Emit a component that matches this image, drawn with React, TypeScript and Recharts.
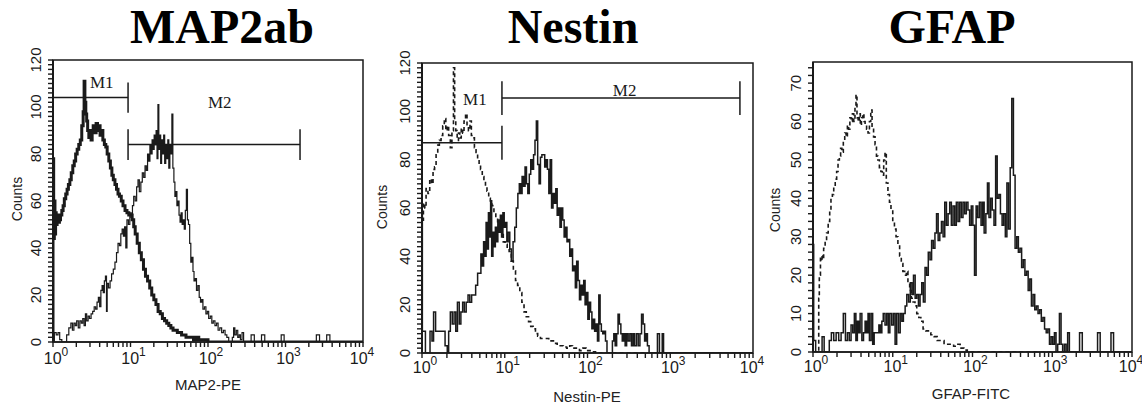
import { LineChart, Line, XAxis, YAxis, ReferenceLine, ReferenceDot, ReferenceArea } from 'recharts';

type Pt = [number, number];

// axis decorations
const xDecades = [1, 10, 100, 1000, 10000];
const decadeExp = ['0', '1', '2', '3', '4'];
const minorSteps = [2, 3, 4, 5, 6, 7, 8, 9];
const map2YLabels = [0, 20, 40, 60, 80, 100, 120];
const nestinYLabels = [0, 20, 40, 60, 80, 100, 120];
const gfapYLabels = [0, 10, 20, 30, 40, 50, 60, 70];

// MAP2ab panel: isotype control (thick) and MAP2-PE stained (thin)
const map2Control: Pt[] = [
  [1, 0], [1, 78], [1.02, 44], [1.04, 60], [1.06, 46], [1.08, 55], [1.1, 50], [1.13, 54], [1.17, 51],
  [1.21, 52], [1.25, 54], [1.3, 56], [1.35, 58], [1.4, 61], [1.46, 63], [1.52, 65], [1.58, 67], [1.65, 69],
  [1.72, 72], [1.8, 75], [1.88, 77], [1.96, 80], [2.05, 82], [2.15, 84], [2.25, 86], [2.35, 92], [2.45, 98],
  [2.52, 111], [2.58, 102], [2.65, 97], [2.72, 94], [2.8, 90], [2.9, 87], [3.0, 90], [3.1, 86], [3.2, 89],
  [3.3, 92], [3.45, 89], [3.6, 93], [3.75, 90], [3.9, 92], [4.05, 88], [4.2, 90], [4.4, 86], [4.6, 84],
  [4.8, 83], [5.0, 80], [5.25, 77], [5.5, 74], [5.75, 71], [6.0, 69], [6.3, 67], [6.6, 65], [6.9, 63],
  [7.2, 62], [7.6, 60], [8.0, 58], [8.5, 56], [9.0, 55], [9.5, 54], [10.0, 54], [10.5, 52], [11.0, 49],
  [11.5, 46], [12.2, 42], [13.0, 38], [13.8, 35], [14.7, 31], [15.6, 28], [16.6, 26], [17.7, 23], [18.8, 20],
  [20, 18], [21.3, 16], [22.7, 13], [24.2, 12], [25.8, 10], [27.5, 9], [29.3, 8], [31.2, 7], [33.2, 6],
  [35.4, 5], [37.7, 5], [40.2, 4], [42.8, 4], [45.6, 3], [48.6, 3], [52, 2], [56, 2], [60, 2], [65, 1],
  [70, 2], [76, 1], [82, 1], [90, 1], [100, 0], [10000, 0],
];

const map2Stained: Pt[] = [
  [1, 0], [1.04, 4], [1.1, 3], [1.16, 4], [1.22, 1], [1.3, 0], [1.42, 0], [1.5, 3], [1.6, 6], [1.7, 8],
  [1.78, 5], [1.86, 8], [1.94, 7], [2.02, 9], [2.12, 6], [2.22, 9], [2.32, 8], [2.42, 10], [2.52, 7],
  [2.62, 12], [2.72, 9], [2.84, 11], [2.96, 10], [3.1, 12], [3.25, 13], [3.4, 15], [3.55, 14], [3.7, 17],
  [3.85, 19], [4.0, 15], [4.15, 22], [4.3, 24], [4.45, 21], [4.6, 26], [4.75, 28], [4.9, 13], [5.0, 25],
  [5.2, 23], [5.45, 26], [5.7, 29], [6.0, 31], [6.3, 34], [6.6, 38], [6.9, 42], [7.2, 41], [7.5, 46],
  [7.8, 48], [8.1, 45], [8.4, 49], [8.7, 40], [9.0, 52], [9.4, 50], [9.8, 55], [10.2, 53], [10.6, 58],
  [11.0, 62], [11.5, 60], [12.0, 66], [12.5, 69], [13.0, 64], [13.6, 68], [14.2, 72], [14.8, 70], [15.4, 75],
  [16.0, 73], [16.6, 80], [17.2, 77], [17.8, 84], [18.4, 80], [19.0, 86], [19.6, 82], [20.2, 88], [20.8, 84],
  [21.4, 90], [22.0, 78], [22.6, 101], [23.2, 82], [23.8, 88], [24.5, 76], [25.2, 86], [26.0, 80], [26.8, 88],
  [27.6, 76], [28.5, 84], [29.4, 78], [30.3, 86], [31.2, 74], [32.2, 84], [33.2, 80], [34.2, 97], [35.2, 74],
  [36.3, 68], [37.4, 62], [38.5, 64], [39.7, 58], [41, 60], [42.3, 54], [43.6, 51], [45, 55], [46.4, 50],
  [47.9, 52], [49.4, 48], [51, 56], [52.6, 65], [54.3, 52], [56, 50], [58, 42], [60, 34], [62, 36], [64, 30],
  [66, 26], [68.5, 27], [71, 22], [74, 24], [77, 19], [80, 17], [83, 18], [86, 14], [90, 15], [94, 12],
  [98, 13], [102, 10], [107, 11], [112, 8], [117, 9], [123, 7], [129, 8], [135, 5], [142, 6], [150, 4],
  [158, 5], [166, 3], [175, 2], [185, 0], [200, 0], [206, 2], [214, 6], [222, 3], [232, 5], [242, 2],
  [252, 3], [262, 1], [275, 4], [288, 0], [360, 3], [396, 0], [490, 3], [540, 0], [880, 3], [960, 0],
  [2500, 3], [2750, 0], [3400, 3], [3740, 0], [10000, 0],
];

// Nestin panel: control (dashed) and Nestin-PE stained (solid)
const nestinControl: Pt[] = [
  [1, 0], [1, 55], [1.04, 62], [1.08, 60], [1.12, 68], [1.18, 66], [1.24, 72], [1.3, 70], [1.36, 76],
  [1.42, 77], [1.48, 82], [1.55, 86], [1.62, 88], [1.7, 90], [1.78, 94], [1.86, 97], [1.94, 92], [2.02, 94],
  [2.1, 90], [2.2, 85], [2.3, 92], [2.4, 118], [2.48, 96], [2.56, 92], [2.66, 88], [2.76, 91], [2.86, 89],
  [2.98, 93], [3.1, 91], [3.22, 96], [3.36, 99], [3.5, 94], [3.64, 92], [3.8, 96], [3.95, 90], [4.1, 89],
  [4.3, 85], [4.5, 83], [4.7, 80], [4.9, 78], [5.1, 76], [5.35, 73], [5.6, 71], [5.85, 69], [6.1, 67],
  [6.4, 64], [6.7, 62], [7.0, 61], [7.4, 58], [7.8, 56], [8.2, 53], [8.6, 51], [9.1, 49], [9.6, 46],
  [10.1, 45], [10.7, 43], [11.3, 42], [12.0, 38], [12.7, 34], [13.5, 30], [14.3, 28], [15.2, 25], [16.1, 21],
  [17.1, 17], [18.2, 15], [19.4, 13], [20.6, 11], [22, 10], [23.5, 8], [25, 7], [27, 6], [29, 6], [31.5, 6],
  [34, 5], [37, 5], [40, 4], [43, 3], [47, 3], [51, 2.5], [56, 2], [61, 3], [66, 2], [72, 2], [80, 1],
  [88, 2], [96, 1], [105, 1], [115, 0.5], [125, 0], [10000, 0],
];

const nestinStained: Pt[] = [
  [1, 0], [1, 58], [1.01, 9], [1.06, 9], [1.1, 0], [1.18, 0], [1.25, 9], [1.32, 5], [1.38, 17], [1.46, 9],
  [1.62, 9], [1.78, 9], [1.9, 3], [2.02, 0], [2.1, 9], [2.2, 17], [2.32, 12], [2.44, 17], [2.56, 9],
  [2.68, 21], [2.82, 12], [2.95, 17], [3.1, 21], [3.25, 17], [3.42, 21], [3.6, 24], [3.78, 21], [3.98, 24],
  [4.2, 24], [4.45, 28], [4.7, 33], [4.95, 33], [5.15, 41], [5.35, 36], [5.55, 46], [5.75, 40], [5.95, 54],
  [6.15, 43], [6.35, 58], [6.55, 48], [6.75, 63], [6.95, 40], [7.2, 50], [7.45, 44], [7.7, 52], [7.95, 46],
  [8.25, 55], [8.55, 50], [8.85, 57], [9.15, 48], [9.5, 58], [9.85, 52], [10.2, 54], [10.6, 46], [11.0, 50],
  [11.5, 43], [12.0, 38], [12.6, 46], [13.2, 52], [13.8, 60], [14.4, 66], [15.0, 70], [15.6, 66], [16.2, 73],
  [16.9, 69], [17.6, 77], [18.3, 70], [19.0, 66], [19.8, 74], [20.6, 80], [21.4, 76], [22.3, 82], [23.2, 88],
  [24.1, 96], [25.0, 78], [26, 70], [27, 81], [28.1, 82], [29.2, 82], [30.4, 77], [31.6, 80], [32.8, 76],
  [34.1, 66], [35.4, 80], [36.8, 60], [38.3, 66], [39.8, 62], [41.4, 68], [43, 57], [44.7, 60], [46.5, 52],
  [48.3, 60], [50.2, 55], [52.2, 48], [54.3, 52], [56.5, 46], [58.7, 47], [61, 40], [63.4, 43], [66, 34],
  [68.6, 36], [71.3, 27], [74, 38], [77, 30], [80, 22], [83, 28], [86.5, 24], [90, 30], [93.5, 20], [97, 25],
  [101, 14], [105, 21], [109, 17], [113, 10], [117.5, 14], [122, 9], [127, 12], [132, 5], [137, 24], [142, 12],
  [147, 9], [153, 8], [159, 9], [165, 5], [172, 0], [192, 0], [200, 5], [208, 8], [216, 3], [225, 8],
  [234, 16], [243, 12], [253, 8], [263, 5], [274, 8], [285, 3], [297, 8], [310, 5], [325, 8], [340, 3],
  [355, 8], [370, 3], [390, 8], [410, 3], [430, 8], [450, 16], [470, 12], [490, 5], [510, 8], [530, 3],
  [555, 0], [690, 0], [700, 8], [740, 0], [790, 0], [800, 8], [830, 0], [10000, 0],
];

// GFAP panel: control (dashed) and GFAP-FITC stained (solid)
const gfapControl: Pt[] = [
  [1, 0], [1.16, 0], [1.18, 14], [1.2, 20], [1.24, 25], [1.3, 24], [1.36, 27], [1.42, 29], [1.48, 31],
  [1.55, 34], [1.62, 37], [1.68, 40], [1.75, 41], [1.82, 43], [1.9, 45], [1.98, 47], [2.06, 50], [2.14, 51],
  [2.22, 53], [2.3, 52], [2.4, 55], [2.5, 57], [2.6, 56], [2.7, 59], [2.8, 58], [2.9, 61], [3.0, 60],
  [3.12, 62], [3.24, 60], [3.36, 64], [3.46, 67], [3.56, 61], [3.68, 60], [3.8, 62], [3.92, 59], [4.05, 61],
  [4.2, 62], [4.35, 60], [4.5, 59], [4.7, 58], [4.9, 57], [5.1, 60], [5.3, 63], [5.5, 58], [5.75, 56],
  [6.0, 54], [6.25, 51], [6.5, 50], [6.8, 48], [7.1, 47], [7.4, 46], [7.7, 50], [8.0, 52], [8.3, 44],
  [8.7, 41], [9.1, 39], [9.5, 37], [10.0, 34], [10.5, 32], [11.0, 30], [11.6, 28], [12.2, 25], [12.8, 23],
  [13.4, 21], [14.1, 20], [14.8, 21], [15.5, 18], [16.3, 16], [17.1, 14], [18.0, 13], [19.0, 12], [20, 10],
  [21.2, 9], [22.5, 8], [24, 6], [26, 5.5], [28, 5], [30, 4.5], [33, 4], [36, 3], [40, 3], [44, 2], [48, 2],
  [53, 2], [58, 1.5], [64, 2], [70, 1], [78, 0.5], [86, 0], [10000, 0],
];

const gfapStained: Pt[] = [
  [1, 0], [1, 28], [1.02, 3], [1.08, 0], [1.2, 0], [1.3, 4], [1.38, 0], [1.5, 0], [1.6, 3], [1.7, 5],
  [1.82, 3], [1.95, 5], [2.1, 3], [2.25, 5], [2.4, 10], [2.55, 3], [2.7, 5], [2.85, 3], [3.0, 7], [3.15, 5],
  [3.3, 10], [3.45, 3], [3.6, 8], [3.75, 5], [3.9, 10], [4.1, 3], [4.3, 5], [4.5, 8], [4.7, 5], [4.9, 10],
  [5.1, 3], [5.35, 10], [5.6, 2], [5.85, 5], [6.1, 5], [6.4, 5], [6.7, 7], [7.0, 5], [7.3, 8], [7.6, 10],
  [8.0, 7], [8.4, 10], [8.8, 5], [9.2, 10], [9.7, 7], [10.2, 10], [10.7, 2], [11.2, 10], [11.8, 5],
  [12.4, 10], [13.0, 8], [13.6, 10], [14.3, 12], [15.0, 15], [15.8, 13], [16.6, 18], [17.4, 15], [18.2, 20],
  [19.1, 14], [20.0, 15], [21.0, 12], [22.0, 15], [23.1, 18], [24.2, 13], [25.4, 22], [26.6, 20], [27.9, 26],
  [29.3, 24], [30.7, 29], [32.2, 27], [33.8, 31], [35.4, 36], [37.1, 29], [38.9, 31], [40.8, 34], [42.8, 30],
  [44.9, 39], [47.1, 33], [49.4, 36], [51.8, 39], [54.3, 33], [57, 38], [59.8, 33], [62.7, 39], [65.8, 34],
  [69, 39], [72.4, 35], [76, 39], [79.7, 36], [83.6, 39], [87.7, 37], [92, 33], [96.5, 38], [101, 33],
  [106, 20], [111, 38], [116, 35], [122, 39], [128, 33], [134, 39], [140, 31], [147, 36], [154, 44],
  [161, 35], [169, 40], [177, 37], [186, 33], [195, 51], [204, 40], [214, 41], [224, 36], [235, 33],
  [246, 36], [258, 30], [270, 44], [283, 32], [297, 48], [311, 66], [326, 46], [342, 27], [359, 30],
  [376, 26], [394, 27], [413, 22], [433, 24], [454, 20], [476, 21], [499, 16], [523, 19], [548, 12],
  [575, 15], [603, 11], [632, 12], [663, 10], [695, 11], [729, 8], [764, 9], [801, 6], [840, 5], [880, 6],
  [923, 2], [968, 4], [1015, 2], [1065, 5], [1115, 0], [1170, 2], [1230, 10], [1290, 2], [1350, 0],
  [1420, 2], [1490, 0], [1560, 5], [1640, 0], [2200, 5], [2380, 0], [3700, 5], [3990, 0], [5450, 5],
  [5870, 0], [10000, 0],
];

// marker gates: [label, start, end, level, half tick height, label x, label y]
type Gate = [string, number, number, number, number, number, number];
const map2Gates: Gate[] = [
  ['M1', 1, 9.3, 104, 6.4, 4.25, 110.5],
  ['M2', 9.3, 1540, 84, 6.5, 142, 102],
];
const nestinGates: Gate[] = [
  ['M1', 1, 9.25, 87, 7, 4.35, 105],
  ['M2', 9.25, 6950, 105.5, 7, 281, 109],
];

const ink = '#1a1a1a';
const sans = '"Liberation Sans", Arial, sans-serif';
const serif = '"Liberation Serif", "Times New Roman", serif';

const xTicks = xDecades.flatMap((d, i) => (i < xDecades.length - 1 ? [d, ...minorSteps.map((m) => m * d)] : [d]));

const toRows = (pts: Pt[]) => pts.map(([x, y]) => ({ x, y }));

type Series = { pts: Pt[]; width: number; dash?: string };

type PanelProps = {
  left: number;
  width: number;
  top: number;
  yAxisW: number;
  right: number;
  xAxisH: number;
  yMax: number;
  yLabels: number[];
  series: Series[];
  gates: Gate[];
  labelDy: number;
};

const X_TICK = 5;
const Y_TICK = 5;

const HistPanel = ({ left, width, top, yAxisW, right, xAxisH, yMax, yLabels, series, gates, labelDy }: PanelProps) => {
  const yTicks: number[] = [];
  for (let v = 0; v <= yMax; v += 2) yTicks.push(v);

  // tick marks come from Recharts' own tickLine; these only place the labels
  const renderXTick = (props: any) => {
    const { x, y, payload } = props;
    const idx = xDecades.indexOf(payload.value);
    if (idx < 0) return <g />;
    return (
      <text x={idx === 4 ? x - 1 : x + 3} y={y - X_TICK + labelDy} textAnchor="middle" fontSize={16} fontFamily={sans} fill={ink}>
        10
        <tspan dy={-8} fontSize={12}>{decadeExp[idx]}</tspan>
      </text>
    );
  };

  const renderYTick = (props: any) => {
    const { x, y, payload } = props;
    if (!yLabels.includes(payload.value)) return <g />;
    return (
      <text
        transform={`translate(${x + Y_TICK - 18},${y}) rotate(-90)`}
        textAnchor="middle"
        dominantBaseline="central"
        fontSize={15}
        fontFamily={sans}
        fill={ink}
      >
        {payload.value}
      </text>
    );
  };

  return (
    <div style={{ position: 'absolute', left, top: 0 }}>
      <LineChart width={width} height={407} margin={{ top, right, left: 0, bottom: 0 }}>
        <XAxis
          dataKey="x"
          type="number"
          scale="log"
          domain={[1, 10000]}
          allowDataOverflow
          ticks={xTicks}
          interval={0}
          tick={renderXTick}
          tickLine={{ stroke: ink, strokeWidth: 1.4 }}
          tickSize={X_TICK}
          tickMargin={0}
          height={xAxisH}
          axisLine={{ stroke: ink, strokeWidth: 1.5 }}
        />
        <YAxis
          type="number"
          domain={[0, yMax]}
          allowDataOverflow
          ticks={yTicks}
          interval={0}
          tick={renderYTick}
          tickLine={{ stroke: ink, strokeWidth: 1.4 }}
          tickSize={Y_TICK}
          tickMargin={0}
          width={yAxisW}
          axisLine={{ stroke: ink, strokeWidth: 2 }}
        />
        <ReferenceArea x1={1} x2={10000} y1={0} y2={yMax} fill="none" stroke={ink} strokeWidth={1.5} />
        {series.map((s, i) => (
          <Line
            key={i}
            data={toRows(s.pts)}
            dataKey="y"
            type="stepAfter"
            dot={false}
            stroke={ink}
            strokeWidth={s.width}
            strokeDasharray={s.dash}
            isAnimationActive={false}
          />
        ))}
        {gates.map(([name, x1, x2, lvl, h]) => [
          <ReferenceLine key={name + 'h'} segment={[{ x: x1, y: lvl }, { x: x2, y: lvl }]} stroke={ink} strokeWidth={1.5} />,
          <ReferenceLine key={name + 'a'} segment={[{ x: x1, y: lvl - h }, { x: x1, y: lvl + h }]} stroke={ink} strokeWidth={1.5} />,
          <ReferenceLine key={name + 'b'} segment={[{ x: x2, y: lvl - h }, { x: x2, y: lvl + h }]} stroke={ink} strokeWidth={1.5} />,
        ])}
        {gates.map(([name, , , , , lx, ly]) => (
          <ReferenceDot
            key={name + 'l'}
            x={lx}
            y={ly}
            r={0}
            fill="none"
            stroke="none"
            label={{ value: name, position: 'center', fontSize: 17, fontFamily: serif, fill: ink }}
          />
        ))}
      </LineChart>
    </div>
  );
};

const titleStyle = (cx: number): React.CSSProperties => ({
  position: 'absolute',
  left: cx - 150,
  width: 300,
  top: 3,
  textAlign: 'center',
  font: `bold 48px/48px ${serif}`,
  color: '#000',
});

const hLabel = (cx: number, cy: number): React.CSSProperties => ({
  position: 'absolute',
  left: cx,
  top: cy,
  transform: 'translate(-50%, -50%)',
  font: `15px ${sans}`,
  color: '#222',
  whiteSpace: 'nowrap',
});

const vLabel = (cx: number, cy: number): React.CSSProperties => ({
  ...hLabel(cx, cy),
  transform: 'translate(-50%, -50%) rotate(-90deg)',
  fontSize: 14,
});

export default function App() {
  return (
    <div style={{ position: 'absolute', left: 0, top: 0, width: 1142, height: 407, background: '#fff', overflow: 'hidden' }}>
      <HistPanel
        left={0}
        width={380}
        top={60}
        yAxisW={53}
        right={17}
        xAxisH={65}
        yMax={120}
        yLabels={map2YLabels}
        series={[
          { pts: map2Stained, width: 1.2 },
          { pts: map2Control, width: 3 },
        ]}
        gates={map2Gates}
        labelDy={22}
      />
      <HistPanel
        left={370}
        width={400}
        top={63}
        yAxisW={52}
        right={17}
        xAxisH={54}
        yMax={120}
        yLabels={nestinYLabels}
        series={[
          { pts: nestinControl, width: 1.6, dash: '4 3' },
          { pts: nestinStained, width: 1.5 },
        ]}
        gates={nestinGates}
        labelDy={20}
      />
      <HistPanel
        left={760}
        width={382}
        top={62}
        yAxisW={53}
        right={10}
        xAxisH={55}
        yMax={75.5}
        yLabels={gfapYLabels}
        series={[
          { pts: gfapControl, width: 1.6, dash: '4 3' },
          { pts: gfapStained, width: 1.5 },
        ]}
        gates={[]}
        labelDy={20}
      />

      <div style={titleStyle(222)}>MAP2ab</div>
      <div style={titleStyle(573)}>Nestin</div>
      <div style={titleStyle(952)}>GFAP</div>

      <div style={hLabel(208, 384)}>MAP2-PE</div>
      <div style={hLabel(587, 396)}>Nestin-PE</div>
      <div style={hLabel(971, 393)}>GFAP-FITC</div>

      <div style={vLabel(17, 199)}>Counts</div>
      <div style={vLabel(382, 207)}>Counts</div>
      <div style={vLabel(775, 210)}>Counts</div>
    </div>
  );
}
